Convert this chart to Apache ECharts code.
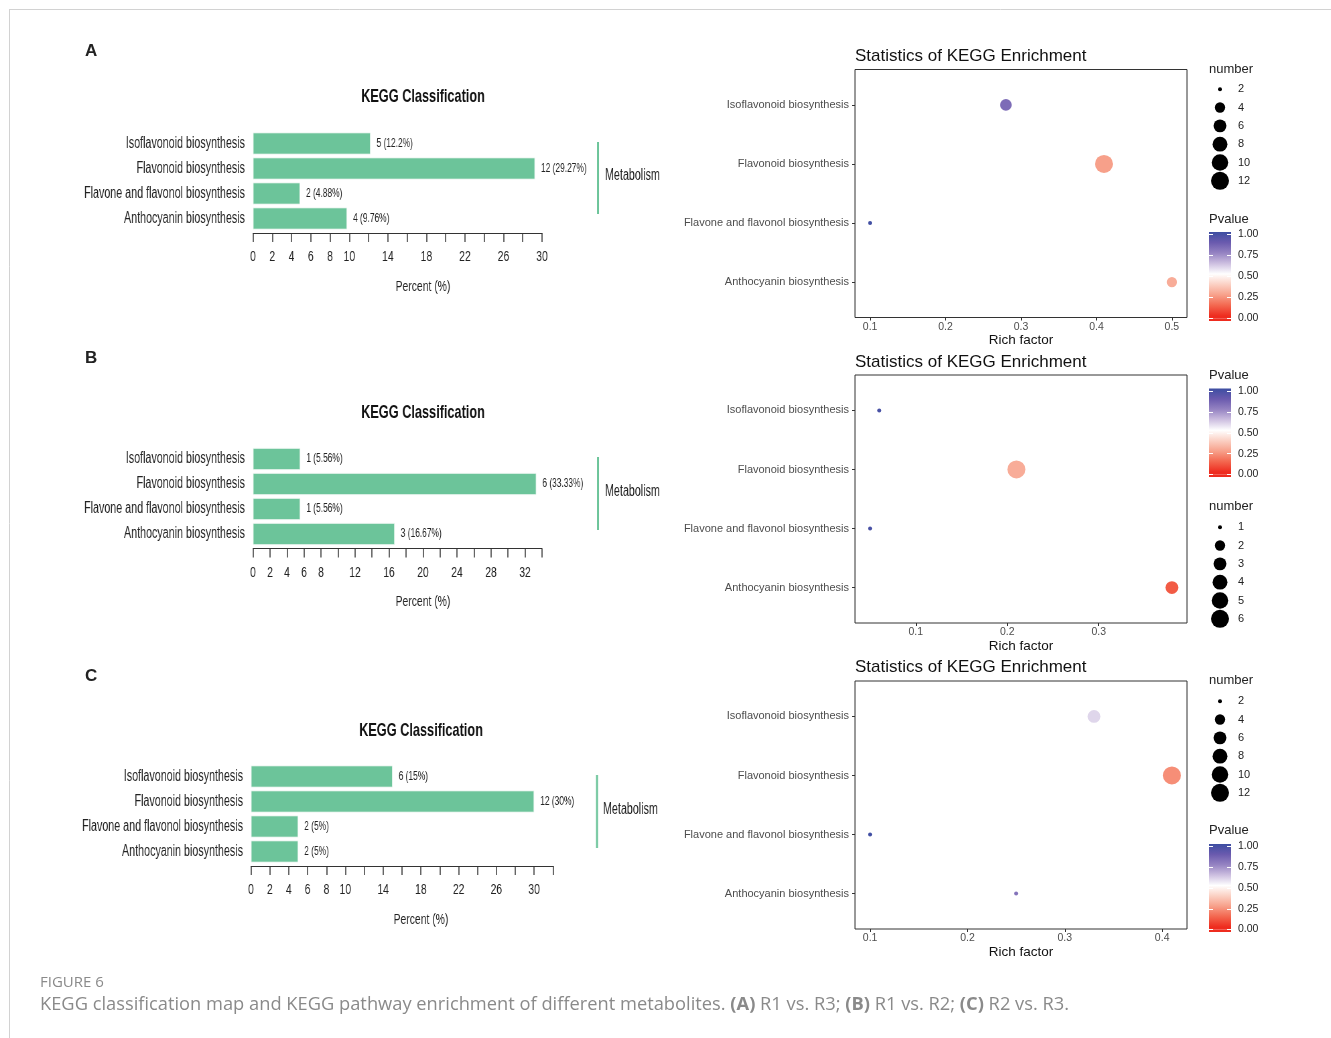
<!DOCTYPE html>
<html><head><meta charset="utf-8">
<script src="https://cdn.jsdelivr.net/npm/echarts@6/dist/echarts.min.js"></script>
<style>
html,body{margin:0;padding:0;background:#fff;overflow:hidden}
#full{position:absolute;left:0;top:0;width:1331px;height:1038px}
#left{position:absolute;left:0;top:0;width:1000px;height:1038px;transform:scaleX(0.67);transform-origin:0 0}
</style>
</head><body><div id="full"></div><div id="left"></div>
<script>
// ---------- data ----------
const catNames = ['Isoflavonoid biosynthesis','Flavonoid biosynthesis','Flavone and flavonol biosynthesis','Anthocyanin biosynthesis'];

const countsA = [5, 12, 2, 4];
const percentA = [12.2, 29.27, 4.88, 9.76];
const richA = [0.28, 0.41, 0.10, 0.50];
const pvalA = [0.82, 0.25, 0.99, 0.28];

const countsB = [1, 6, 1, 3];
const percentB = [5.56, 33.33, 5.56, 16.67];
const richB = [0.06, 0.21, 0.05, 0.38];
const pvalB = [0.97, 0.28, 0.97, 0.10];

const countsC = [6, 12, 2, 2];
const percentC = [15, 30, 5, 5];
const richC = [0.33, 0.41, 0.10, 0.25];
const pvalC = [0.58, 0.21, 0.99, 0.80];

const barMaxA = 30, barMaxB = 34, barMaxC = 32;
const barTicksA = [0,2,4,6,8,10,12,14,16,18,20,22,24,26,28,30];
const barLabelsA = [0,2,4,6,8,10,14,18,22,26,30];
const barTicksB = [0,2,4,6,8,10,12,14,16,18,20,22,24,26,28,30,32,34];
const barLabelsB = [0,2,4,6,8,12,16,20,24,28,32];
const barTicksC = [0,2,4,6,8,10,12,14,16,18,20,22,24,26,28,30,32];
const barLabelsC = [0,2,4,6,8,10,14,18,22,26,30];

const richTicksA = [0.1, 0.2, 0.3, 0.4, 0.5];
const richTicksB = [0.1, 0.2, 0.3];
const richTicksC = [0.1, 0.2, 0.3, 0.4];

const sizeLegendA = [2, 4, 6, 8, 10, 12];
const sizeLegendB = [1, 2, 3, 4, 5, 6];
const sizeLegendC = [2, 4, 6, 8, 10, 12];

const pvalTicks = [0, 0.25, 0.5, 0.75, 1];
const pvalColors = ['#ee2c1f','#f3674f','#f7a08a','#fbd0c3','#ffffff','#cdbfe0','#9583c2','#6a5aae','#3d4ea2'];

// ---------- layout ----------
const SANS = "'Liberation Sans',Arial,Helvetica,sans-serif";
const OPEN = "'Open Sans',sans-serif";
const GREEN = '#6cc49a';
const SX = 0.67;                 // horizontal condensing of the left (bar) chart
const ux = x => x / SX;          // page x -> unscaled x of the left chart

const panels = [
  {counts:countsA, pct:percentA, rich:richA, pval:pvalA, barMax:barMaxA, barTicks:barTicksA, barLabels:barLabelsA, richTicks:richTicksA, sizeLegend:sizeLegendA,
   bar:{left:253, top:131, width:289}, scTop:69.5, lgTop:80, cbTop:232, cbH:89, pctPos:[423,287],
   letter:['A',51], kegg:[423,97], mLine:[598,142,214], mText:[605,176], stats:56, numT:69, pvT:219},
  {counts:countsB, pct:percentB, rich:richB, pval:pvalB, barMax:barMaxB, barTicks:barTicksB, barLabels:barLabelsB, richTicks:richTicksB, sizeLegend:sizeLegendB,
   bar:{left:253, top:446.5, width:289}, scTop:375, lgTop:518, cbTop:388.5, cbH:88.5, pctPos:[423,602],
   letter:['B',358], kegg:[423,413], mLine:[598,457,530], mText:[605,492], stats:362, numT:506, pvT:375},
  {counts:countsC, pct:percentC, rich:richC, pval:pvalC, barMax:barMaxC, barTicks:barTicksC, barLabels:barLabelsC, richTicks:richTicksC, sizeLegend:sizeLegendC,
   bar:{left:251, top:764, width:302}, scTop:681, lgTop:692, cbTop:844, cbH:88, pctPos:[421,920],
   letter:['C',676], kegg:[421,731], mLine:[597,775,848], mText:[603,810], stats:667, numT:680, pvT:830}
];

// option pieces for the two charts
const L = {grid:[], xAxis:[], yAxis:[], series:[], graphic:[]};
const R = {grid:[], xAxis:[], yAxis:[], series:[], graphic:[]};
const scatterIdx = [];

function txt(O, x, y, text, fontSize, opts) {
  opts = opts || {};
  const style = {
    x:x, y:y, text:text, fontSize:fontSize, fontFamily:opts.family || SANS,
    fontWeight:opts.weight || 'normal', fill:opts.color || '#222',
    align:opts.align || 'left', textAlign:opts.align || 'left',
    verticalAlign:'middle', textVerticalAlign:'middle'
  };
  if (opts.rich) style.rich = opts.rich;
  O.graphic.push({type:'text', silent:true, style:style});
}
function add(O, key, v) { O[key].push(v); return O[key].length - 1; }

panels.forEach((p, i) => {
  const nMin = Math.min.apply(null, p.counts), nMax = Math.max.apply(null, p.counts);
  const sizeFn = n => 4 + 14 * Math.sqrt(Math.max(0, (n - nMin) / (nMax - nMin)));

  // ---- bar chart (left, condensed) ----
  const gBar = add(L, 'grid', {left:ux(p.bar.left), top:p.bar.top, width:ux(p.bar.width), height:100});
  const xBar = add(L, 'xAxis', {gridIndex:gBar, type:'value', min:0, max:p.barMax, position:'bottom', offset:2,
    axisLine:{show:true, onZero:false, lineStyle:{color:'#333', width:1}},
    axisTick:{show:true, length:9, customValues:p.barTicks, lineStyle:{color:'#333', width:1.5}},
    axisLabel:{customValues:p.barLabels, margin:16, fontSize:15.5, fontFamily:SANS, color:'#222'},
    splitLine:{show:false}});
  const yBar = add(L, 'yAxis', {gridIndex:gBar, type:'category', inverse:true, data:catNames,
    axisLine:{show:false}, axisTick:{show:false},
    axisLabel:{margin:12, fontSize:16, fontFamily:SANS, color:'#222'}});
  L.series.push({type:'bar', xAxisIndex:xBar, yAxisIndex:yBar, barCategoryGap:'12%',
    data:p.pct, itemStyle:{color:GREEN, borderColor:'#e6f4ec', borderWidth:0.8},
    label:{show:true, position:'right', distance:9, fontSize:12.5, fontFamily:SANS, color:'#222',
      formatter: prm => p.counts[prm.dataIndex] + ' (' + p.pct[prm.dataIndex] + '%)'},
    silent:true, animation:false});
  txt(L, ux(p.kegg[0]), p.kegg[1], 'KEGG Classification', 19, {weight:'bold', align:'center', color:'#111'});
  txt(L, ux(p.pctPos[0]), p.pctPos[1], 'Percent (%)', 15.5, {align:'center'});
  L.graphic.push({type:'line', silent:true, shape:{x1:ux(p.mLine[0]), y1:p.mLine[1], x2:ux(p.mLine[0]), y2:p.mLine[2]}, style:{stroke:GREEN, lineWidth:3}});
  txt(L, ux(p.mText[0]), p.mText[1], 'Metabolism', 16, {});

  // ---- scatter ----
  const rMin = Math.min.apply(null, p.rich), rMax = Math.max.apply(null, p.rich);
  const pad = (rMax - rMin) * 0.05;
  const gSc = add(R, 'grid', {left:855, top:p.scTop, width:332, height:248, show:true, borderColor:'#333', borderWidth:1, backgroundColor:'#fff'});
  const xSc = add(R, 'xAxis', {gridIndex:gSc, type:'value', min:rMin - pad, max:rMax + pad, position:'bottom',
    axisLine:{show:false, onZero:false},
    axisTick:{show:true, length:3, customValues:p.richTicks, lineStyle:{color:'#333'}},
    axisLabel:{customValues:p.richTicks, margin:4, fontSize:10.5, fontFamily:SANS, color:'#4d4d4d', formatter:v => v.toFixed(1)},
    splitLine:{show:false},
    name:'Rich factor', nameLocation:'middle', nameGap:14, nameTextStyle:{fontSize:13.5, fontFamily:SANS, color:'#111'}});
  const ySc = add(R, 'yAxis', {gridIndex:gSc, type:'value', min:-0.6, max:3.6, inverse:true, position:'left',
    axisLine:{show:false, onZero:false},
    axisTick:{show:true, length:3, customValues:[0,1,2,3], lineStyle:{color:'#333'}},
    axisLabel:{customValues:[0,1,2,3], margin:6, fontSize:11, fontFamily:SANS, color:'#4d4d4d', formatter:v => catNames[Math.round(v)]},
    splitLine:{show:false}});
  scatterIdx.push(R.series.length);
  R.series.push({type:'scatter', xAxisIndex:xSc, yAxisIndex:ySc,
    data:p.rich.map((r, k) => [r, k, p.counts[k], p.pval[k]]),
    symbolSize: v => sizeFn(v[2]), itemStyle:{opacity:1}, silent:true, animation:false});

  // ---- size legend ----
  const gLg = add(R, 'grid', {left:1210, top:p.lgTop, width:20, height:110});
  const xLg = add(R, 'xAxis', {gridIndex:gLg, type:'value', min:0, max:1, show:false});
  const yLg = add(R, 'yAxis', {gridIndex:gLg, type:'category', inverse:true, position:'right', data:p.sizeLegend.map(String),
    axisLine:{show:false}, axisTick:{show:false},
    axisLabel:{margin:8, fontSize:11, fontFamily:SANS, color:'#222'}});
  R.series.push({type:'scatter', xAxisIndex:xLg, yAxisIndex:yLg,
    data:p.sizeLegend.map((n, k) => [0.5, k, n]), symbolSize: v => sizeFn(v[2]),
    itemStyle:{color:'#000', opacity:1}, silent:true, animation:false});

  // ---- colour bar ----
  const gCb = add(R, 'grid', {left:1209, top:p.cbTop, width:22, height:p.cbH});
  const xCb = add(R, 'xAxis', {gridIndex:gCb, type:'category', data:['Pvalue'], show:false});
  const yR = add(R, 'yAxis', {gridIndex:gCb, type:'value', min:-0.03, max:1.03, position:'right', z:5,
    axisLine:{show:false},
    axisTick:{show:true, inside:true, length:4, customValues:pvalTicks, lineStyle:{color:'#fff', width:1}},
    axisLabel:{customValues:pvalTicks, margin:7, fontSize:10.5, fontFamily:SANS, color:'#222', formatter:v => v.toFixed(2)},
    splitLine:{show:false}});
  add(R, 'yAxis', {gridIndex:gCb, type:'value', min:-0.03, max:1.03, position:'left', z:5,
    axisLine:{show:false},
    axisTick:{show:true, inside:true, length:4, customValues:pvalTicks, lineStyle:{color:'#fff', width:1}},
    axisLabel:{show:false}, splitLine:{show:false}});
  R.series.push({type:'bar', xAxisIndex:xCb, yAxisIndex:yR, barWidth:'100%', data:[1.03], silent:true, animation:false,
    itemStyle:{color:new echarts.graphic.LinearGradient(0, 1, 0, 0,
      pvalColors.map((c, k) => ({offset:(0.03 + k / (pvalColors.length - 1)) / 1.03, color:c})))}});
  R.series.push({type:'bar', xAxisIndex:xCb, yAxisIndex:yR, barWidth:'100%', barGap:'-100%', data:[-0.03], silent:true, animation:false,
    itemStyle:{color:pvalColors[0]}});

  // ---- texts ----
  txt(R, 85, p.letter[1], p.letter[0], 17, {weight:'bold'});
  txt(R, 855, p.stats, 'Statistics of KEGG Enrichment', 17, {color:'#111'});
  txt(R, 1209, p.numT, 'number', 13, {});
  txt(R, 1209, p.pvT, 'Pvalue', 13, {});
});

// border and caption
R.graphic.push({type:'line', silent:true, shape:{x1:9, y1:9.5, x2:1331, y2:9.5}, style:{stroke:'#d2d2d2', lineWidth:1}});
R.graphic.push({type:'line', silent:true, shape:{x1:9.5, y1:9, x2:9.5, y2:1038}, style:{stroke:'#d2d2d2', lineWidth:1}});
txt(R, 40, 983, 'FIGURE 6', 15, {family:OPEN, color:'#8a8a8a'});
txt(R, 40, 1005, '{n|KEGG classification map and KEGG pathway enrichment of different metabolites. }{b|(A)}{n| R1 vs. R3; }{b|(B)}{n| R1 vs. R2; }{b|(C)}{n| R2 vs. R3.}', 18.3,
  {family:OPEN, color:'#8a8a8a', rich:{
    n:{fontSize:18.3, fontFamily:OPEN, color:'#8a8a8a'},
    b:{fontSize:18.3, fontFamily:OPEN, color:'#6a6a6a', fontWeight:'bold'}}});

const chartR = echarts.init(document.getElementById('full'));
chartR.setOption({
  animation:false,
  grid:R.grid, xAxis:R.xAxis, yAxis:R.yAxis, series:R.series, graphic:R.graphic,
  visualMap:[{type:'continuous', show:false, min:0, max:1, dimension:3, seriesIndex:scatterIdx,
    inRange:{color:pvalColors}}]
});
const chartL = echarts.init(document.getElementById('left'));
chartL.setOption({
  animation:false,
  grid:L.grid, xAxis:L.xAxis, yAxis:L.yAxis, series:L.series, graphic:L.graphic
});
</script></body></html>
